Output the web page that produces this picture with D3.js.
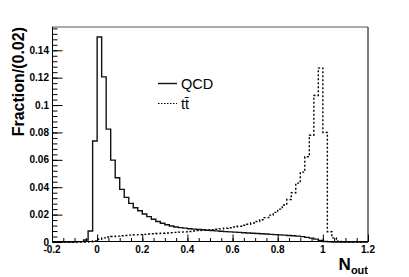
<!DOCTYPE html>
<html>
<head>
<meta charset="utf-8">
<script src="https://d3js.org/d3.v7.min.js"></script>
<style>
  html, body { margin:0; padding:0; background:#fff; }
  svg { display:block; }
  text { font-family: "Liberation Sans", Arial, Helvetica, sans-serif; }
</style>
</head>
<body>
<div id="chart"></div>
<script>
// histogram settings (N_out, bin width 0.02)
var binLow = -0.2;
var binWidth = 0.02;

// QCD fractions per bin, from -0.20 to 1.18
var qcdValues = [
	0, 0, 0, 0, 0, 0.0001, 0.0003, 0.0015, 0.008, 0.0737,
	0.1497, 0.1206, 0.0824, 0.0598, 0.0469, 0.0384, 0.0326, 0.0282, 0.0250, 0.0228,
	0.0204, 0.0185, 0.0166, 0.0150, 0.0137, 0.0126, 0.0117, 0.0110, 0.0105, 0.0101,
	0.0097, 0.0094, 0.0091, 0.0089, 0.0086, 0.0084, 0.0081, 0.0078, 0.0076, 0.0074,
	0.0072, 0.0070, 0.0068, 0.0066, 0.0064, 0.0062, 0.0060, 0.0058, 0.0056, 0.0054,
	0.0052, 0.0050, 0.0048, 0.0046, 0.0043, 0.0039, 0.0034, 0.0028, 0.0021, 0.0012,
	0.0004, 0.0001, 0, 0, 0, 0, 0, 0, 0, 0
];

// ttbar fractions per bin
var ttValues = [
	0, 0, 0, 0, 0, 0, 0, 0, 0.0002, 0.0008,
	0.0020, 0.0030, 0.0036, 0.0040, 0.0043, 0.0046, 0.0048, 0.0050, 0.0052, 0.0054,
	0.0056, 0.0058, 0.0060, 0.0062, 0.0064, 0.0066, 0.0068, 0.0070, 0.0072, 0.0074,
	0.0077, 0.0080, 0.0083, 0.0086, 0.0088, 0.0090, 0.0093, 0.0096, 0.0100, 0.0104,
	0.0109, 0.0115, 0.0122, 0.0130, 0.0139, 0.0150, 0.0163, 0.0178, 0.0196, 0.0216,
	0.0240, 0.0270, 0.0310, 0.0360, 0.0430, 0.0510, 0.0622, 0.0780, 0.107, 0.127,
	0.080, 0.0075, 0.003, 0.0005, 0, 0, 0, 0, 0, 0
];

var xMajor = [-0.2, 0, 0.2, 0.4, 0.6, 0.8, 1.0, 1.2];
var yMajor = [0, 0.02, 0.04, 0.06, 0.08, 0.10, 0.12, 0.14];
var legendNames = ["QCD", "t\u0074\u0304"];
var xDomain = [-0.2, 1.2];
var yDomain = [0, 0.157];

var W = 409, H = 277;
var margin = {top:27, right:41, bottom:35, left:52};
var width = W - margin.left - margin.right,
    height = H - margin.top - margin.bottom;

var x = d3.scaleLinear().domain(xDomain).range([0, width]);
var y = d3.scaleLinear().domain(yDomain).range([height, 0]);

var svg = d3.select("#chart").append("svg")
	.attr("width", W)
	.attr("height", H);

var g = svg.append("g")
	.attr("transform", "translate(" + margin.left + "," + margin.top + ")");

// build step points for a histogram
var toSteps = function(vals){
	var pts = vals.map(function(v, i){ return [binLow + i*binWidth, v]; });
	pts.push([binLow + vals.length*binWidth, vals[vals.length-1]]);
	return pts;
};

var stepLine = d3.line()
	.x(function(d){ return x(d[0]); })
	.y(function(d){ return y(d[1]); })
	.curve(d3.curveStepAfter);

// histograms
g.append("path")
	.datum(toSteps(ttValues))
	.attr("fill", "none")
	.attr("stroke", "#000")
	.attr("stroke-width", 1.4)
	.attr("stroke-dasharray", "2,2")
	.attr("d", stepLine);

g.append("path")
	.datum(toSteps(qcdValues))
	.attr("fill", "none")
	.attr("stroke", "#111")
	.attr("stroke-width", 1.4)
	.attr("d", stepLine);

// frame: top and right
g.append("line")
	.attr("x1", 0).attr("x2", width).attr("y1", 0).attr("y2", 0)
	.attr("stroke", "#555").attr("stroke-width", 1);
g.append("line")
	.attr("x1", width).attr("x2", width).attr("y1", 0).attr("y2", height)
	.attr("stroke", "#555").attr("stroke-width", 1.5);

// y axis (ROOT style, ticks inside)
var yMinor = d3.range(0, 0.1565, 0.004);
var yAxis = d3.axisRight(y)
	.tickValues(yMinor)
	.tickSize(5)
	.tickFormat("");
g.append("g").attr("class", "yMinor")
	.attr("transform", "translate(0.5,0)")
	.call(yAxis)
	.call(function(s){ s.select(".domain").remove(); });

var yMajAxis = d3.axisRight(y)
	.tickValues(yMajor)
	.tickSize(10)
	.tickFormat("");
g.append("g").attr("class", "yMajor")
	.attr("transform", "translate(0.5,0)")
	.call(yMajAxis)
	.call(function(s){ s.select(".domain").remove(); });

g.append("line")
	.attr("x1", 0.5).attr("x2", 0.5).attr("y1", 0).attr("y2", height)
	.attr("stroke", "#000").attr("stroke-width", 1);

g.selectAll(".yLabel")
	.data(yMajor)
	.enter().append("text")
	.attr("class", "yLabel")
	.attr("x", -3)
	.attr("y", function(d){ return y(d) + 3.5; })
	.attr("text-anchor", "end")
	.attr("font-size", "10px")
	.attr("font-weight", "bold")
	.text(function(d){ return d === 0 ? "0" : String(+d.toFixed(2)); });

// x axis
var xMinor = d3.range(-0.2, 1.2001, 0.05);
var xAxis = d3.axisTop(x)
	.tickValues(xMinor)
	.tickSize(3.5)
	.tickFormat("");
g.append("g").attr("class", "xMinor")
	.attr("transform", "translate(0," + (height - 0.5) + ")")
	.call(xAxis)
	.call(function(s){ s.select(".domain").remove(); });

var xMajAxis = d3.axisTop(x)
	.tickValues(xMajor)
	.tickSize(7)
	.tickFormat("");
g.append("g").attr("class", "xMajor")
	.attr("transform", "translate(0," + (height - 0.5) + ")")
	.call(xMajAxis)
	.call(function(s){ s.select(".domain").remove(); });

g.append("line")
	.attr("x1", 0).attr("x2", width).attr("y1", height - 0.5).attr("y2", height - 0.5)
	.attr("stroke", "#000").attr("stroke-width", 1);

g.selectAll(".xLabel")
	.data(xMajor)
	.enter().append("text")
	.attr("class", "xLabel")
	.attr("x", function(d){ return x(d); })
	.attr("y", height + 11)
	.attr("text-anchor", "middle")
	.attr("font-size", "10px")
	.attr("font-weight", "bold")
	.text(function(d){ return d === 0 ? "0" : String(+d.toFixed(1)); });

// axis titles
svg.append("text")
	.attr("transform", "translate(24," + margin.top + ") rotate(-90)")
	.attr("text-anchor", "end")
	.attr("font-size", "16px")
	.attr("font-weight", "bold")
	.text("Fraction/(0.02)");

var xt = svg.append("text")
	.attr("x", margin.left + width)
	.attr("y", 269.5)
	.attr("text-anchor", "end")
	.attr("font-weight", "bold")
	.attr("font-size", "17px");
xt.append("tspan").text("N");
xt.append("tspan").attr("font-size", "11px").attr("dy", 4).text("out");

// legend
var legend = svg.append("g").attr("transform", "translate(158,83)");
legend.append("line")
	.attr("x1", 0).attr("x2", 19).attr("y1", 0.5).attr("y2", 0.5)
	.attr("stroke", "#111").attr("stroke-width", 1.4);
legend.append("text")
	.attr("x", 23).attr("y", 5.5)
	.attr("font-size", "14.5px")
	.text(legendNames[0]);
legend.append("line")
	.attr("x1", 0).attr("x2", 19).attr("y1", 20.5).attr("y2", 20.5)
	.attr("stroke", "#000").attr("stroke-width", 1.2)
	.attr("stroke-dasharray", "1.5,1.5");
legend.append("text")
	.attr("x", 23).attr("y", 26)
	.attr("font-size", "14.5px")
	.text(legendNames[1]);
</script>
</body>
</html>
